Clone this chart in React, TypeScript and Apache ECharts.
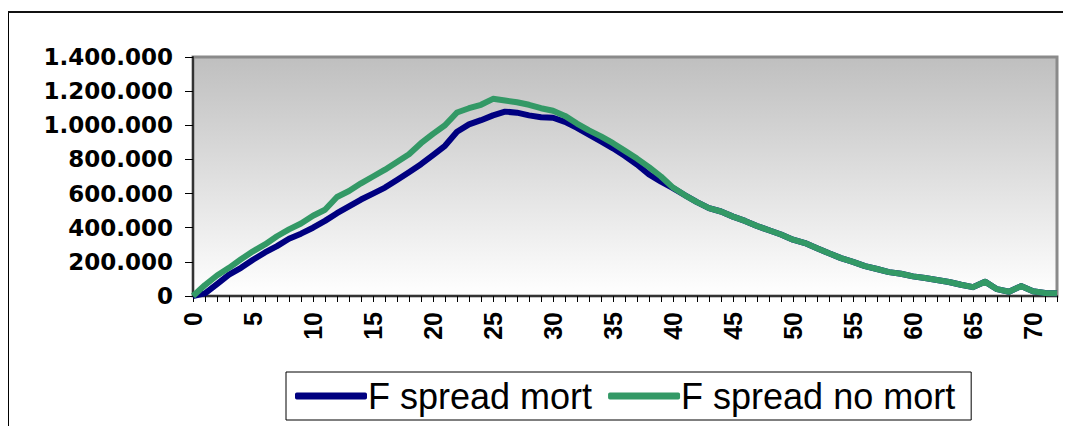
import React, { useEffect, useRef } from "react";
import * as echarts from "echarts";

// Day index on the horizontal axis
const days: string[] = Array.from({ length: 73 }, (_, i) => String(i));

// Values in thousands, one per day
const spreadMort: number[] = [
  0, 15, 70, 125, 165, 212, 255, 292, 335, 365,
  400, 440, 485, 525, 565, 600, 635, 680, 725, 772,
  825, 880, 962, 1005, 1030, 1058, 1080, 1074, 1058, 1047,
  1044, 1020, 985, 945, 905, 865, 820, 770, 712, 670,
  632, 590, 550, 515, 495, 465, 440, 410, 385, 360,
  330, 310, 280, 250, 222, 200, 175, 158, 140, 130,
  115, 105, 94, 82, 66, 52, 84, 40, 25, 58,
  28, 18, 16,
];

const spreadNoMort: number[] = [
  0, 64, 120, 165, 215, 262, 302, 350, 390, 425,
  470, 505, 580, 615, 660, 700, 740, 785, 830, 895,
  950, 1000, 1075, 1100, 1120, 1155, 1145, 1135, 1120, 1100,
  1085, 1055, 1010, 970, 935, 895, 850, 805, 755, 700,
  635, 590, 550, 515, 495, 465, 440, 410, 385, 360,
  330, 310, 280, 250, 222, 200, 175, 158, 140, 130,
  115, 105, 94, 82, 66, 52, 84, 40, 25, 58,
  28, 18, 16,
];

const yMax = 1400000;
const yStep = 200000;

const withDots = (v: number) =>
  String(Math.round(v)).replace(/\B(?=(\d{3})+(?!\d))/g, ".");

export default function App() {
  const ref = useRef<HTMLDivElement>(null);

  useEffect(() => {
    if (!ref.current) return;
    document.documentElement.style.overflow = "hidden";
    document.body.style.overflow = "hidden";
    const chart = echarts.init(ref.current, undefined, { renderer: "svg" });
    chart.setOption({
      animation: false,
      grid: {
        left: 185,
        top: 49,
        right: 14,
        bottom: 130,
        show: true,
        backgroundColor: new echarts.graphic.LinearGradient(0, 0, 0, 1, [
          { offset: 0, color: "#bfbfbf" },
          { offset: 1, color: "#ffffff" },
        ]),
        borderColor: "#8a8a8a",
        borderWidth: 3,
      },
      graphic: [
        // frame around the chart area: left and top edges
        {
          type: "line",
          z: -10,
          shape: { x1: 0.5, y1: 3.5, x2: 0.5, y2: 430 },
          style: { stroke: "#000", lineWidth: 1 },
        },
        {
          type: "line",
          z: -10,
          shape: { x1: 0, y1: 4, x2: 1063, y2: 4 },
          style: { stroke: "#111", lineWidth: 2 },
        },
      ],
      legend: {
        left: 278,
        top: 364,
        orient: "horizontal",
        padding: [6, 16, 6, 9],
        itemGap: 16,
        itemWidth: 72,
        itemHeight: 7,
        borderColor: "#000",
        borderWidth: 1,
        backgroundColor: "#fff",
        icon: "roundRect",
        textStyle: {
          fontFamily: "'Liberation Sans', Arial, sans-serif",
          fontSize: 36,
          color: "#000",
          padding: [0, 0, 0, -4],
        },
        data: ["F spread mort", "F spread no mort"],
      },
      xAxis: {
        type: "category",
        data: days,
        boundaryGap: false,
        axisLine: { show: true, lineStyle: { color: "#333", width: 2 } },
        axisTick: {
          show: true,
          interval: 0,
          length: 6,
          lineStyle: { color: "#000", width: 1 },
        },
        axisLabel: {
          interval: 4,
          rotate: 90,
          margin: 16,
          fontFamily: "'Liberation Sans', Arial, sans-serif",
          fontWeight: "bold",
          fontSize: 25,
          color: "#000",
        },
        splitLine: { show: false },
      },
      yAxis: {
        type: "value",
        min: 0,
        max: yMax,
        interval: yStep,
        axisLine: { show: true, lineStyle: { color: "#333", width: 2 } },
        axisTick: {
          show: true,
          length: 8,
          lineStyle: { color: "#000", width: 1 },
        },
        axisLabel: {
          margin: 20,
          fontFamily: "'DejaVu Sans', sans-serif",
          fontWeight: "bold",
          fontSize: 23,
          color: "#000",
          formatter: (v: number) => withDots(v),
        },
        splitLine: { show: false },
      },
      series: [
        {
          name: "F spread mort",
          type: "line",
          data: spreadMort.map((v) => v * 1000),
          symbol: "none",
          lineStyle: { color: "#000080", width: 6, join: "round" },
          itemStyle: { color: "#000080" },
        },
        {
          name: "F spread no mort",
          type: "line",
          data: spreadNoMort.map((v) => v * 1000),
          symbol: "none",
          lineStyle: { color: "#339966", width: 6, join: "round" },
          itemStyle: { color: "#339966" },
        },
      ],
    });
    return () => chart.dispose();
  }, []);

  return <div ref={ref} style={{ width: 1063, height: 418 }} />;
}
